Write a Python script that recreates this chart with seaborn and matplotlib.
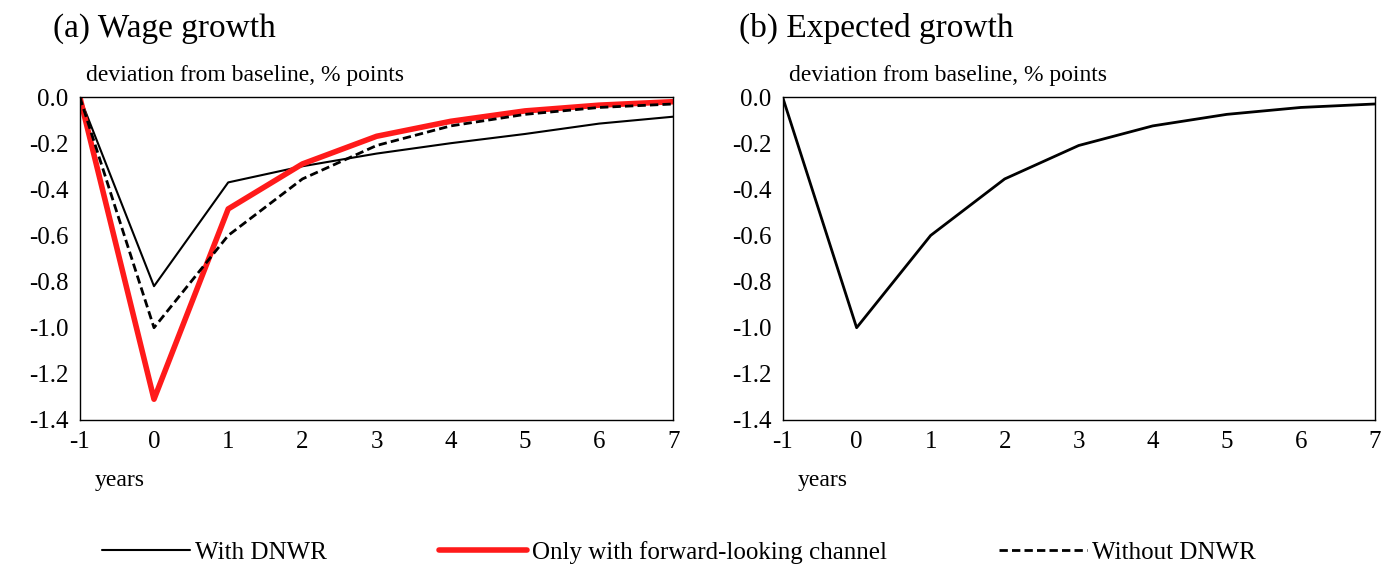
import matplotlib
matplotlib.use("Agg")
import matplotlib.pyplot as plt
import seaborn as sns
import pandas as pd

years = [-1, 0, 1, 2, 3, 4, 5, 6, 7]
with_dnwr = [0, -0.82, -0.37, -0.30, -0.245, -0.20, -0.16, -0.115, -0.085]
forward_only = [0, -1.31, -0.485, -0.29, -0.17, -0.105, -0.06, -0.035, -0.02]
without_dnwr = [0, -1.0, -0.60, -0.355, -0.21, -0.125, -0.075, -0.045, -0.03]
expected = [0, -1.0, -0.60, -0.355, -0.21, -0.125, -0.075, -0.045, -0.03]

sns.set_style("white")
plt.rcParams['font.family'] = ['Liberation Serif', 'DejaVu Serif']
plt.rcParams['axes.unicode_minus'] = False
plt.rcParams['text.color'] = 'black'
plt.rcParams['xtick.color'] = 'black'
plt.rcParams['ytick.color'] = 'black'

fig = plt.figure(figsize=(14, 5.71), dpi=100)
ax1 = fig.add_axes([0.057, 0.2645, 0.424, 0.5655])
ax2 = fig.add_axes([0.559, 0.2645, 0.423, 0.5655])

df = pd.DataFrame({"year": years, "With DNWR": with_dnwr,
                   "Only with forward-looking channel": forward_only,
                   "Without DNWR": without_dnwr, "Expected": expected})

sns.lineplot(data=df, x="year", y="With DNWR", ax=ax1, color="black", lw=1.5, label="With DNWR")
sns.lineplot(data=df, x="year", y="Only with forward-looking channel", ax=ax1, color="#ff1a1a", lw=4,
             label="Only with forward-looking channel")
sns.lineplot(data=df, x="year", y="Without DNWR", ax=ax1, color="black", lw=2, ls=(0, (3, 1.5)),
             label="Without DNWR")
sns.lineplot(data=df, x="year", y="Expected", ax=ax2, color="black", lw=2)

for ax, title, tx in [(ax1, "(a) Wage growth", 0.038), (ax2, "(b) Expected growth", 0.528)]:
    ax.set_xlim(-1, 7)
    ax.set_ylim(-1.4, 0)
    ax.set_xticks(years)
    ax.set_yticks([0, -0.2, -0.4, -0.6, -0.8, -1.0, -1.2, -1.4])
    ax.set_yticklabels([f"{v:.1f}" for v in [0, -0.2, -0.4, -0.6, -0.8, -1.0, -1.2, -1.4]])
    ax.tick_params(labelsize=18, length=0, pad=8)
    ax.set_xlabel("")
    ax.set_ylabel("")
    for s in ax.spines.values():
        s.set_color("black")
        s.set_linewidth(1)
    fig.text(tx, 0.95, title, fontsize=24, va="center")
    ax.text(0.01, 1.035, "deviation from baseline, % points", transform=ax.transAxes,
            fontsize=17, va="bottom")
    ax.text(0.025, -0.155, "years", transform=ax.transAxes, fontsize=17, va="top")

h, l = ax1.get_legend_handles_labels()
ax1.legend_.remove()
fig.legend(h, l, loc="center", bbox_to_anchor=(0.485, 0.033), ncol=3, frameon=False,
           fontsize=18, handlelength=3.5, columnspacing=4.5, handletextpad=0.2)

fig.savefig("out.png", dpi=100)
